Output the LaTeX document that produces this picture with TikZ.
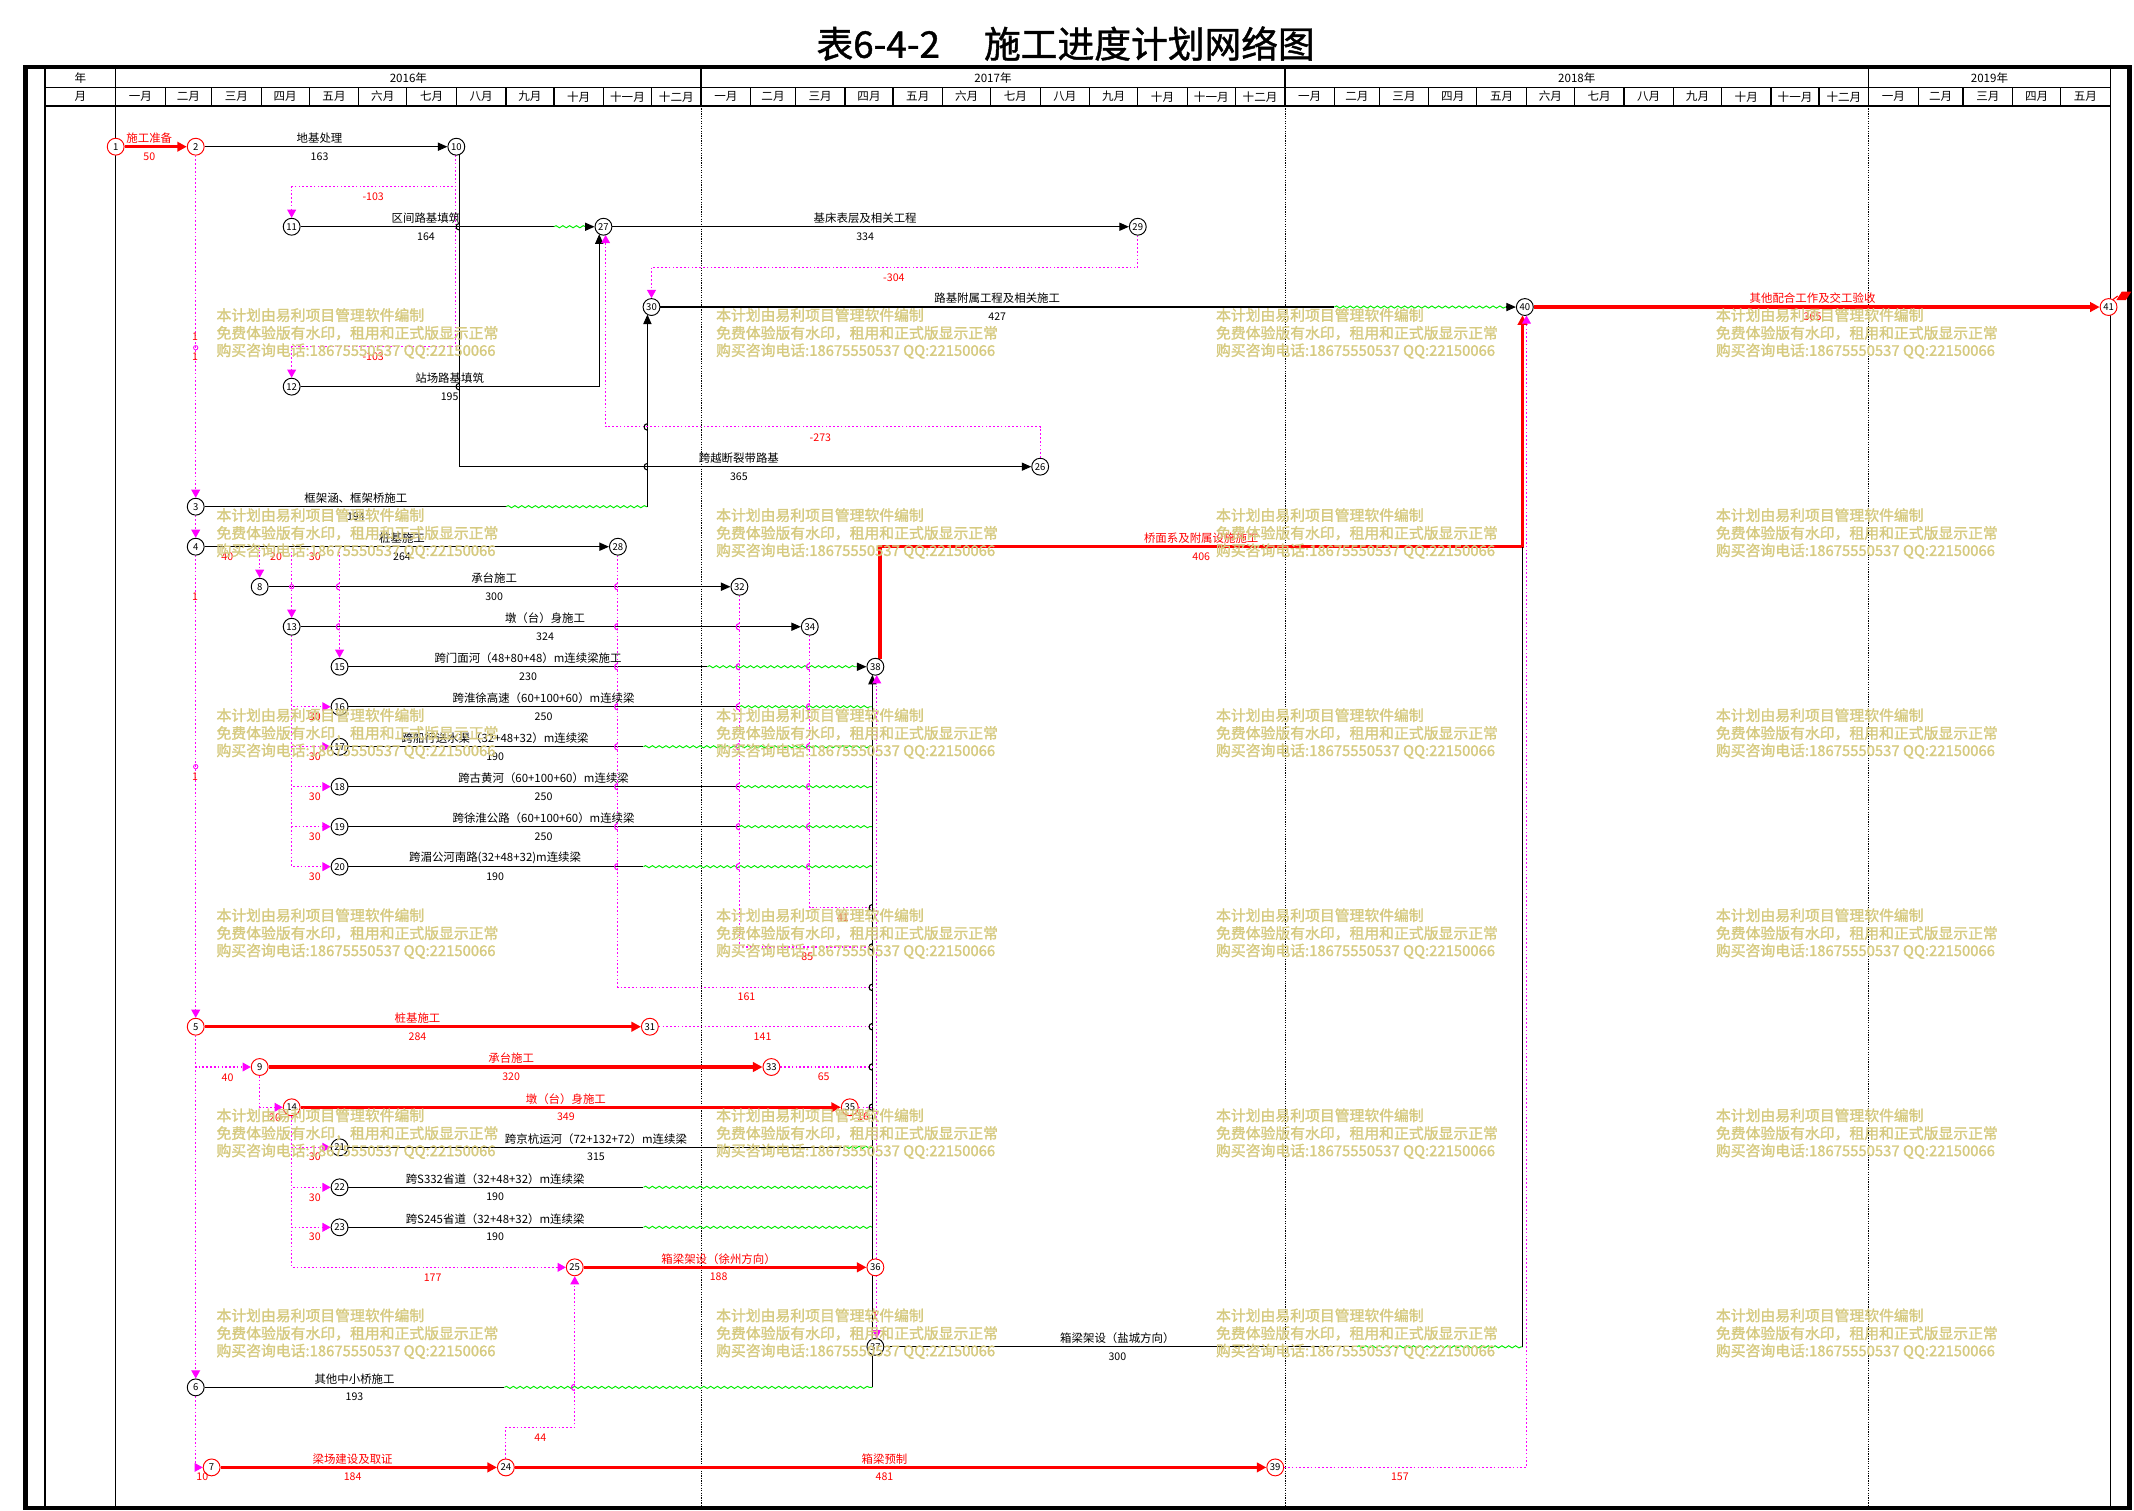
\documentclass[tikz,border=0pt]{standalone}
\usepackage{fontspec}
\setmainfont{Noto Sans CJK SC}
\newfontfamily\wmfont[FakeBold=1.6]{Noto Sans CJK SC}
\newfontfamily\ttlfont[FakeBold=1.2]{Noto Sans CJK SC}
\usetikzlibrary{arrows.meta,decorations.pathmorphing}
\definecolor{mag}{RGB}{255,0,255}
\definecolor{wm}{RGB}{214,202,128}
\definecolor{grn}{RGB}{0,235,0}
\definecolor{rd}{RGB}{255,0,0}
\pgfdeclarelayer{grid}\pgfdeclarelayer{lines}\pgfdeclarelayer{fg}
\pgfsetlayers{grid,lines,main,fg}
\tikzset{
  nd/.style={circle,draw=black,line width=0.7pt,fill=white,minimum size=12.4pt,inner sep=0pt,font=\fontsize{7}{7}\selectfont},
  ndr/.style={nd,draw=rd},
  act/.style={draw=black,line width=0.8pt,-{Triangle[length=7pt,width=6pt]}},
  actl/.style={draw=black,line width=0.8pt},
  crit/.style={draw=rd,line width=2.6pt,-{Triangle[length=7pt,width=7pt]}},
  dep/.style={draw=mag,line width=0.8pt,dash pattern=on 1.2pt off 1.6pt,-{Triangle[length=6pt,width=6.5pt]}},
  depl/.style={draw=mag,line width=0.8pt,dash pattern=on 1.2pt off 1.6pt},
  wavy/.style={draw=grn,line width=0.7pt,decorate,decoration={snake,amplitude=0.8pt,segment length=5pt}},
  nm/.style={font=\fontsize{8.4}{9}\selectfont,inner sep=0pt},
  du/.style={font=\fontsize{7.8}{8}\selectfont,inner sep=0pt},
  lg/.style={font=\fontsize{7.8}{8}\selectfont,inner sep=0pt,text=rd},
  wmk/.style={font=\wmfont\fontsize{10.9}{11}\selectfont,inner sep=0pt,anchor=west,text=wm},
  hd/.style={font=\fontsize{8.5}{9}\selectfont,inner sep=0pt},
}
\newcommand\actlbl[5][black]{\node[nm,text=#1] at (#2,#3-6.3) {#4}; \node[du,text=#1] at (#2,#3+7.1) {#5};}
\newcommand\lagl[3]{\node[lg] at (#1,#2) {#3};}
\newcommand\jmp[3]{\draw[#1,line width=0.8pt] (#2,#3-2.4) .. controls (#2-3.2,#3-2.4) and (#2-3.2,#3+2.4) .. (#2,#3+2.4);}
\begin{document}
\begin{tikzpicture}[x=1pt,y=-1pt]
\useasboundingbox (0,0) rectangle (1568,1110.2);
% ---------------- grid ----------------
\begin{pgfonlayer}{grid}
\draw[line width=3.6pt] (18.7,49.2) rectangle (1564.5,1108);
\draw[line width=1.3pt] (33,49.2) -- (33,1108);
\draw[line width=1pt] (1550.5,49.2) -- (1550.5,1108);
\draw[line width=0.9pt] (85,49.2) -- (85,1108);
\draw[line width=0.9pt] (33,64.2) -- (1550.5,64.2);
\draw[line width=0.9pt] (33,77.9) -- (1550.5,77.9);
\foreach \yx in {515.1,944.1,1373} {
  \draw[line width=0.9pt] (\yx,49.2) -- (\yx,77.9);
  \draw[line width=0.5pt,dash pattern=on 0.9pt off 0.9pt] (\yx,77.9) -- (\yx,1106);
}
\foreach \a/\b/\m in {0/31/一月,31/60/二月,60/91/三月,91/121/四月,121/152/五月,152/182/六月,182/213/七月,213/244/八月,244/274/九月,274/305/十月,305/335/十一月,335/366/十二月,
 366/397/一月,397/425/二月,425/456/三月,456/486/四月,486/517/五月,517/547/六月,547/578/七月,578/609/八月,609/639/九月,639/670/十月,670/700/十一月,700/731/十二月,
 731/762/一月,762/790/二月,790/821/三月,821/851/四月,851/882/五月,882/912/六月,912/943/七月,943/974/八月,974/1004/九月,1004/1035/十月,1035/1065/十一月,1065/1096/十二月,
 1096/1127/一月,1127/1155/二月,1155/1186/三月,1186/1216/四月,1216/1247/五月} {
  \node[hd] at ({85+(\a+\b)/2*1.1752},71) {\m};
  \draw[line width=0.9pt] ({85+\b*1.1752},64.2) -- ({85+\b*1.1752},77.9);
}
\end{pgfonlayer}
\node[hd] (hy) at (59,57.3) {年};
\node[hd] (hm) at (59,71) {月};
\node[hd] (y16) at (300.1,57.3) {2016年};
\node[hd] (y17) at (729.6,57.3) {2017年};
\node[hd] (y18) at (1158.6,57.3) {2018年};
\node[hd] (y19) at (1461.8,57.3) {2019年};
\node[font=\ttlfont\fontsize{27}{27}\selectfont,inner sep=0pt] (title) at (783,32) {表6-4-2\hspace{1.2em}施工进度计划网络图};
% ---------------- nodes ----------------
\node[ndr] (n1) at (85.0,107.8) {1};
\node[ndr] (n2) at (143.8,107.8) {2};
\node[nd] (n10) at (335.3,107.8) {10};
\node[nd] (n11) at (214.3,166.6) {11};
\node[nd] (n27) at (443.4,166.6) {27};
\node[nd] (n29) at (836.0,166.6) {29};
\node[nd] (n30) at (478.7,225.6) {30};
\node[nd] (n40) at (1120.4,225.6) {40};
\node[ndr] (n41) at (1549.3,225.6) {41};
\node[nd] (n12) at (214.3,284.1) {12};
\node[nd] (n26) at (764.3,342.9) {26};
\node[nd] (n3) at (143.8,372.3) {3};
\node[nd] (n4) at (143.8,401.7) {4};
\node[nd] (n28) at (454.0,401.7) {28};
\node[nd] (n8) at (190.8,431.1) {8};
\node[nd] (n32) at (543.3,431.1) {32};
\node[nd] (n13) at (214.3,460.5) {13};
\node[nd] (n34) at (595.0,460.5) {34};
\node[nd] (n15) at (249.5,489.9) {15};
\node[nd] (n38) at (643.2,489.9) {38};
\node[nd] (n16) at (249.5,519.3) {16};
\node[nd] (n17) at (249.5,548.7) {17};
\node[nd] (n18) at (249.5,578.0) {18};
\node[nd] (n19) at (249.5,607.4) {19};
\node[nd] (n20) at (249.5,636.8) {20};
\node[ndr] (n5) at (143.8,754.4) {5};
\node[ndr] (n31) at (477.5,754.4) {31};
\node[ndr] (n9) at (190.8,784.0) {9};
\node[ndr] (n33) at (566.8,784.0) {33};
\node[ndr] (n14) at (214.3,813.6) {14};
\node[ndr] (n35) at (624.4,813.6) {35};
\node[nd] (n21) at (249.5,843.0) {21};
\node[nd] (n22) at (249.5,872.4) {22};
\node[nd] (n23) at (249.5,901.8) {23};
\node[ndr] (n25) at (422.3,931.2) {25};
\node[ndr] (n36) at (643.2,931.2) {36};
\node[nd] (n37) at (643.2,989.6) {37};
\node[nd] (n6) at (143.8,1019.4) {6};
\node[ndr] (n7) at (155.5,1078.2) {7};
\node[ndr] (n24) at (371.7,1078.2) {24};
\node[ndr] (n39) at (937.0,1078.2) {39};
% ---------------- connectors ----------------
\begin{pgfonlayer}{lines}
\draw[crit] (n1) -- (n2);
\draw[act] (n2) -- (n10);
\draw[act] (337.5,113.7) |- (n26);
\draw[actl] (n11) -- (407,166.6);
\draw[wavy] (407,166.6) -- (430.5,166.6);
\draw[act] (430,166.6) -- (n27);
\draw[act] (n12) -- (440.3,284.1) -- (440.3,172.1);
\draw[act] (n27) -- (n29);
\draw[actl] (n3) -- (371.8,372.3);
\draw[wavy] (371.8,372.3) -- (475.7,372.3);
\draw[act] (475.7,372.3) -- (475.7,231.1);
\draw[actl] (n30) -- (980.5,225.6);
\draw[wavy] (980.5,225.6) -- (1107,225.6);
\draw[act] (1106.5,225.6) -- (n40);
\draw[crit] (n40) -- (n41);
\draw[act] (n4) -- (n28);
\draw[act] (n8) -- (n32);
\draw[act] (n13) -- (n34);
\draw[actl] (n15) -- (519.8,489.9);
\draw[wavy] (519.8,489.9) -- (630,489.9);
\draw[act] (629.5,489.9) -- (n38);
\foreach \k/\e in {16/543.3,17/472.8,18/543.3,19/543.3,20/472.8,21/619.7,22/472.8,23/472.8} {
  \draw[actl] (n\k) -- (\e,0 |- n\k);
  \draw[wavy] (\e,0 |- n\k) -- (641,0 |- n\k);
}
\draw[actl] (n6) -- (370.6,1019.4);
\draw[wavy] (370.6,1019.4) -- (641,1019.4);
\draw[act] (641,1019.4) -- (641,495.8);
\draw[crit] (646.4,484.5) -- (646.4,401.7) -- (1118.7,401.7) -- (1118.7,231.7);
\draw[actl] (n37) -- (997,989.6);
\draw[wavy] (997,989.6) -- (1118.7,989.6);
\draw[actl] (1118.7,989.6) -- (1118.7,402);
\draw[crit] (n5) -- (n31);
\draw[crit] (n9) -- (n33);
\draw[crit] (n14) -- (n35);
\draw[crit] (n25) -- (n36);
\draw[crit] (n7) -- (n24);
\draw[crit] (n24) -- (n39);
% dependencies
\draw[dep] (n2) -- (n3);
\draw[dep] (n3) -- (n4);
\draw[dep] (n4) -- (n5);
\draw[dep] (n5) -- (n6);
\draw[dep] (n6.south) |- (n7.west);
\draw[dep] (334.6,114) |- (214.3,137.2) -- (n11);
\draw[dep] (334.6,114) |- (214.3,254.7) -- (n12);
\draw[dep] (n29.south) |- (478.7,196.5) -- (n30);
\draw[dep] (n26.north) |- (445,313.7) -- (445,172.7);
\draw[dep] (190.8,402.5) -- (n8);
\draw[dep] (214.3,402.5) -- (n13);
\draw[dep] (249.5,402.5) -- (n15);
\foreach \k in {16,...,20} \draw[dep] (n13.south) |- (n\k.west);
\draw[depl] (n28.south) |- (641,725.5);
\draw[depl] (n32.south) |- (641,695.8);
\draw[depl] (n34.south) |- (641,667);
\draw[depl] (n31) -- (641,754.4);
\draw[depl] (n33) -- (641,784);
\draw[depl] (n35) -- (641,813.6);
\draw[dep] (644.2,925) -- (644.2,496.1);
\draw[dep] (n5.south) |- (n9.west);
\draw[dep] (n9.south) |- (n14.west);
\foreach \k in {21,22,23,25} \draw[dep] (n14.south) |- (n\k.west);
\draw[dep] (644.2,937.4) -- (644.2,983.4);
\draw[dep] (n24.north) |- (422.3,1048.8) -- (n25.south);
\draw[dep] (n39.east) -- (1121.6,1078.2) -- (1121.6,231.8);
% jumps
\foreach \yy in {667,695.8,725.5,754.4,784,813.6} {\jmp{black}{641}{\yy}}
\jmp{black}{475.7}{313.7}
\jmp{black}{475.7}{342.9}
\jmp{black}{337.5}{166.6}
\jmp{black}{337.5}{284.1}
\foreach \yy in {431.1,460.5,489.9,519.3,548.7,578,607.4,636.8} {\jmp{mag}{454}{\yy}}
\foreach \yy in {460.5,489.9,519.3,548.7,578,607.4,636.8} {\jmp{mag}{543.3}{\yy}}
\foreach \yy in {489.9,519.3,548.7,578,607.4,636.8} {\jmp{mag}{595}{\yy}}
\jmp{mag}{249.5}{431.1}
\jmp{mag}{249.5}{460.5}
\jmp{mag}{422.3}{1019.4}
\draw[mag,line width=0.6pt] (143.8,255.5) circle (1.6);
\draw[mag,line width=0.6pt] (143.8,563.3) circle (1.6);
\draw[mag,line width=0.6pt] (214.3,431.1) circle (1.6);
\fill[rd] (1555,220.5) -- (1559,214.3) -- (1566,214.3) -- (1562,220.5) -- cycle;
\draw[rd,line width=0.8pt] (1552,220.5) -- (1556,217.5);
\end{pgfonlayer}
% ---------------- activity labels ----------------
\actlbl[rd]{109.7}{107.8}{施工准备}{50}
\actlbl{234.8}{107.8}{地基处理}{163}
\actlbl{313}{166.6}{区间路基填筑}{164}
\actlbl{330.4}{284.1}{站场路基填筑}{195}
\actlbl{261.5}{372.3}{框架涵、框架桥施工}{194}
\actlbl{635.7}{166.6}{基床表层及相关工程}{334}
\actlbl{732.7}{225.6}{路基附属工程及相关施工}{427}
\actlbl{542.9}{342.9}{跨越断裂带路基}{365}
\actlbl{295.4}{401.7}{桩基施工}{264}
\actlbl{363.1}{431.1}{承台施工}{300}
\actlbl{400.5}{460.5}{墩（台）身施工}{324}
\actlbl{388}{489.9}{跨门面河（48+80+48）m连续梁施工}{230}
\actlbl{399.4}{519.3}{跨淮徐高速（60+100+60）m连续梁}{250}
\actlbl{363.8}{548.7}{跨船行送水渠（32+48+32）m连续梁}{190}
\actlbl{399.4}{578.0}{跨古黄河（60+100+60）m连续梁}{250}
\actlbl{399.4}{607.4}{跨徐淮公路（60+100+60）m连续梁}{250}
\actlbl{363.8}{636.8}{跨湄公河南路(32+48+32)m连续梁}{190}
\actlbl{437.9}{843.0}{跨京杭运河（72+132+72）m连续梁}{315}
\actlbl{363.8}{872.4}{跨S332省道（32+48+32）m连续梁}{190}
\actlbl{363.8}{901.8}{跨S245省道（32+48+32）m连续梁}{190}
\actlbl{821}{989.6}{箱梁架设（盐城方向）}{300}
\actlbl{260.5}{1019.4}{其他中小桥施工}{193}
\actlbl[rd]{1331.8}{225.6}{其他配合工作及交工验收}{365}
\actlbl[rd]{882.6}{401.7}{桥面系及附属设施施工}{406}
\actlbl[rd]{306.8}{754.4}{桩基施工}{284}
\actlbl[rd]{375.6}{784.0}{承台施工}{320}
\actlbl[rd]{415.8}{813.6}{墩（台）身施工}{349}
\actlbl[rd]{528}{931.2}{箱梁架设（徐州方向）}{188}
\actlbl[rd]{259.1}{1078.2}{梁场建设及取证}{184}
\actlbl[rd]{649.9}{1078.2}{箱梁预制}{481}
% ---------------- lag labels ----------------
\lagl{274.2}{144.5}{-103}
\lagl{274.2}{262}{-103}
\lagl{656.8}{203.8}{-304}
\lagl{602.8}{321.4}{-273}
\lagl{167}{409}{40}
\lagl{202.8}{409}{20}
\lagl{231.3}{409}{30}
\foreach \yy in {526.6,556.2,585.4,614.9,644.3,850.2,879.7,909.0} {\lagl{231.3}{\yy}{30}}
\lagl{619.4}{674}{41}
\lagl{593.2}{703.1}{85}
\lagl{548.5}{732.5}{161}
\lagl{560.3}{762}{141}
\lagl{605.2}{791.3}{65}
\lagl{634.1}{820.8}{16}
\lagl{167.2}{791.6}{40}
\lagl{202.1}{821}{20}
\lagl{317.9}{938.6}{177}
\lagl{643}{967}{1}
\lagl{397}{1056.2}{44}
\lagl{148.7}{1085}{10}
\lagl{1028.6}{1085}{157}
\foreach \yy in {247.4,262.1,438.4,570.7} {\lagl{143.4}{\yy}{1}}
% ---------------- watermarks ----------------
\begin{pgfonlayer}{fg}
\foreach \wx in {158.9,526,893.3,1260.6} {
  \foreach \wy in {231.5,378.5,525.5,672.5,819.5,966.5} {
    \node[wmk] at (\wx,\wy) {本计划由易利项目管理软件编制};
    \node[wmk] at (\wx,\wy+13.2) {免费体验版有水印，租用和正式版显示正常};
    \node[wmk] at (\wx,\wy+26.4) {购买咨询电话:18675550537 QQ:22150066};
  }
}
\end{pgfonlayer}
\end{tikzpicture}
\end{document}
